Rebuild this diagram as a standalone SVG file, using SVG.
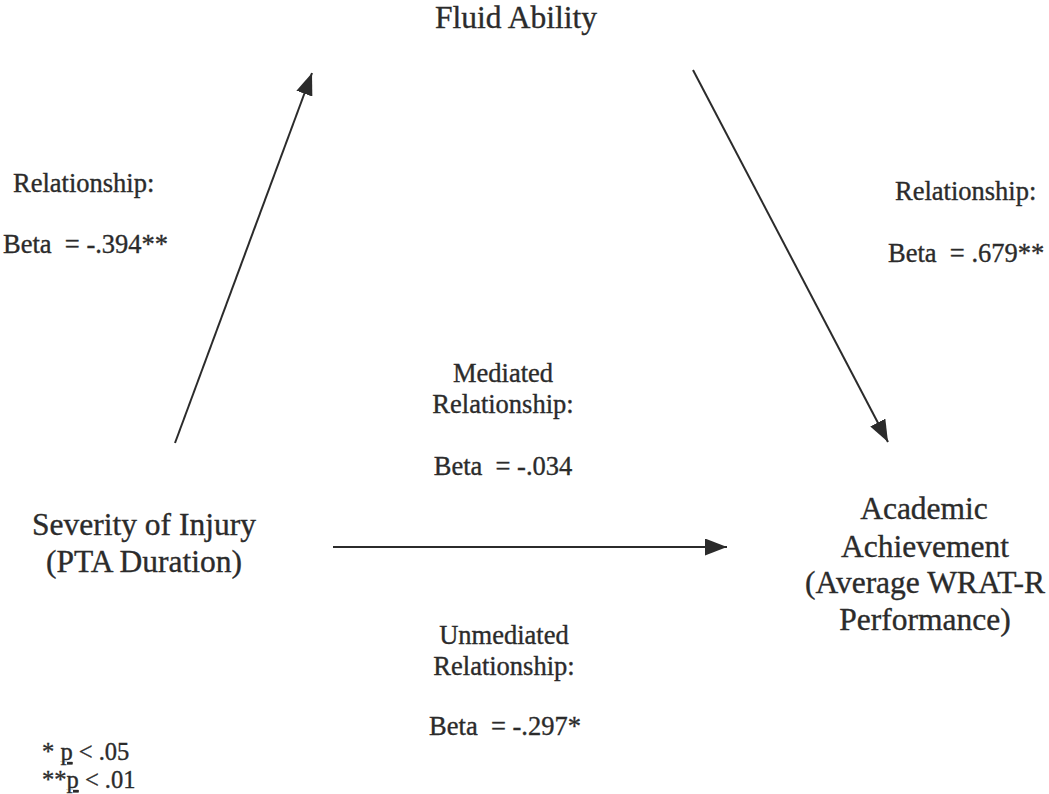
<svg xmlns="http://www.w3.org/2000/svg" width="1049" height="794" viewBox="0 0 1049 794">
<style>
text{font-family:"Liberation Serif","Times New Roman",serif;fill:#2b2b2b;stroke:#2b2b2b;stroke-width:0.35;white-space:pre}
.node{font-size:31.5px}
.lbl{font-size:26.5px}
.note{font-size:24.5px}
.c{text-anchor:middle}
.edge{stroke:#2b2b2b;stroke-width:2;fill:none}
</style>
<defs>
<marker id="ah" viewBox="0 0 22 17" markerWidth="22" markerHeight="17" refX="22" refY="8.5" orient="auto" markerUnits="userSpaceOnUse">
<path d="M0,0 L22,8.5 L0,17 Z" fill="#2b2b2b"/>
</marker>
</defs>
<rect width="1049" height="794" fill="#ffffff"/>
<g id="connectors">
<line class="edge" x1="175" y1="443" x2="312" y2="73" marker-end="url(#ah)"/>
<line class="edge" x1="693" y1="70" x2="888" y2="442" marker-end="url(#ah)"/>
<line class="edge" x1="333" y1="547" x2="727" y2="547" marker-end="url(#ah)"/>
</g>
<g id="node-fluid">
<text class="node c" x="516" y="28">Fluid Ability</text>
</g>
<g id="node-severity">
<text class="node c" x="144" y="535">Severity of Injury</text>
<text class="node c" x="144" y="572">(PTA Duration)</text>
</g>
<g id="node-academic">
<text class="node c" x="924" y="519">Academic</text>
<text class="node c" x="925" y="557">Achievement</text>
<text class="node c" x="925" y="593">(Average WRAT-R</text>
<text class="node c" x="925" y="630">Performance)</text>
</g>
<g id="labels">
<text class="lbl" x="13" y="192">Relationship:</text>
<text class="lbl" x="3" y="253">Beta  = -.394**</text>
<text class="lbl" x="895" y="200">Relationship:</text>
<text class="lbl" x="888" y="262">Beta  = .679**</text>
<text class="lbl c" x="503" y="382">Mediated</text>
<text class="lbl c" x="503" y="413">Relationship:</text>
<text class="lbl c" x="503" y="475">Beta  = -.034</text>
<text class="lbl c" x="504" y="644">Unmediated</text>
<text class="lbl c" x="504" y="675">Relationship:</text>
<text class="lbl c" x="505" y="735">Beta  = -.297*</text>
</g>
<g id="footnote">
<text class="note" x="42" y="760">* <tspan text-decoration="underline">p</tspan> &lt; .05</text>
<text class="note" x="42" y="788">**<tspan text-decoration="underline">p</tspan> &lt; .01</text>
</g>
</svg>
